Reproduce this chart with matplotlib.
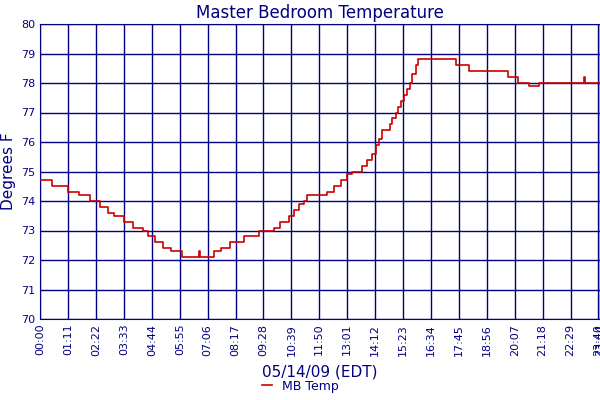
import matplotlib
matplotlib.use("Agg")
import matplotlib.pyplot as plt
from matplotlib.lines import Line2D

NAVY = "#000080"

# minutes after midnight, temperature (F) -- step changes
minutes = [0, 30, 71, 99, 127, 152, 173, 188, 213, 236, 262, 274, 292, 312, 333, 361,
           404, 406, 407, 442, 460, 483, 519, 557, 595, 610, 632, 645, 658, 670, 678,
           683, 691, 730, 747, 765, 780, 793, 818, 831, 843, 854, 861, 869, 877, 891,
           896, 904, 910, 917, 925, 932, 940, 947, 955, 960, 966, 981, 1058, 1091,
           1190, 1216, 1243, 1269, 1384, 1385, 1387, 1424]
temps = [74.7, 74.5, 74.3, 74.2, 74.0, 73.8, 73.6, 73.5, 73.3, 73.1, 73.0, 72.8, 72.6,
         72.4, 72.3, 72.1, 72.3, 72.1, 72.1, 72.3, 72.4, 72.6, 72.8, 73.0, 73.1, 73.3,
         73.5, 73.7, 73.9, 74.0, 74.2, 74.2, 74.2, 74.3, 74.5, 74.7, 74.9, 75.0, 75.2,
         75.4, 75.6, 75.9, 76.1, 76.4, 76.4, 76.6, 76.8, 77.0, 77.2, 77.4, 77.6, 77.8,
         78.0, 78.3, 78.6, 78.8, 78.8, 78.8, 78.6, 78.4, 78.2, 78.0, 77.9, 78.0, 78.2,
         78.0, 78.0, 78.0]

tick_labels = ["00:00", "01:11", "02:22", "03:33", "04:44", "05:55", "07:06", "08:17",
               "09:28", "10:39", "11:50", "13:01", "14:12", "15:23", "16:34", "17:45",
               "18:56", "20:07", "21:18", "22:29", "23:40", "23:44"]


def to_min(s):
    h, m = s.split(":")
    return int(h) * 60 + int(m)


fig = plt.figure(figsize=(6, 4), dpi=100)
ax = fig.add_axes([0.067, 0.2025, 0.933, 0.7375])

ax.step(minutes, temps, where="post", color="#cc0000", lw=1.2, zorder=3)

ax.set_xlim(0, 1424)
ax.set_ylim(70, 80)
ax.set_yticks(range(70, 81))
ax.set_xticks([to_min(t) for t in tick_labels])
ax.set_xticklabels(tick_labels, rotation=90, fontsize=8, color=NAVY)
ax.tick_params(axis="y", labelsize=8, labelcolor=NAVY, length=0)
ax.tick_params(axis="x", length=0)
ax.grid(True, color=NAVY, lw=1)
for s in ax.spines.values():
    s.set_color(NAVY)

ax.set_title("Master Bedroom Temperature", color=NAVY, fontsize=12, pad=4)
ax.set_ylabel("Degrees F", color=NAVY, fontsize=11)
ax.set_xlabel("05/14/09 (EDT)", color=NAVY, fontsize=11, labelpad=6)

fig.legend(handles=[Line2D([], [], color="#cc0000", lw=1.2)], labels=["MB Temp"],
           loc="lower center", bbox_to_anchor=(0.5, -0.01), frameon=False,
           fontsize=9, handlelength=0.8, labelcolor=NAVY)

fig.savefig("out.png")
